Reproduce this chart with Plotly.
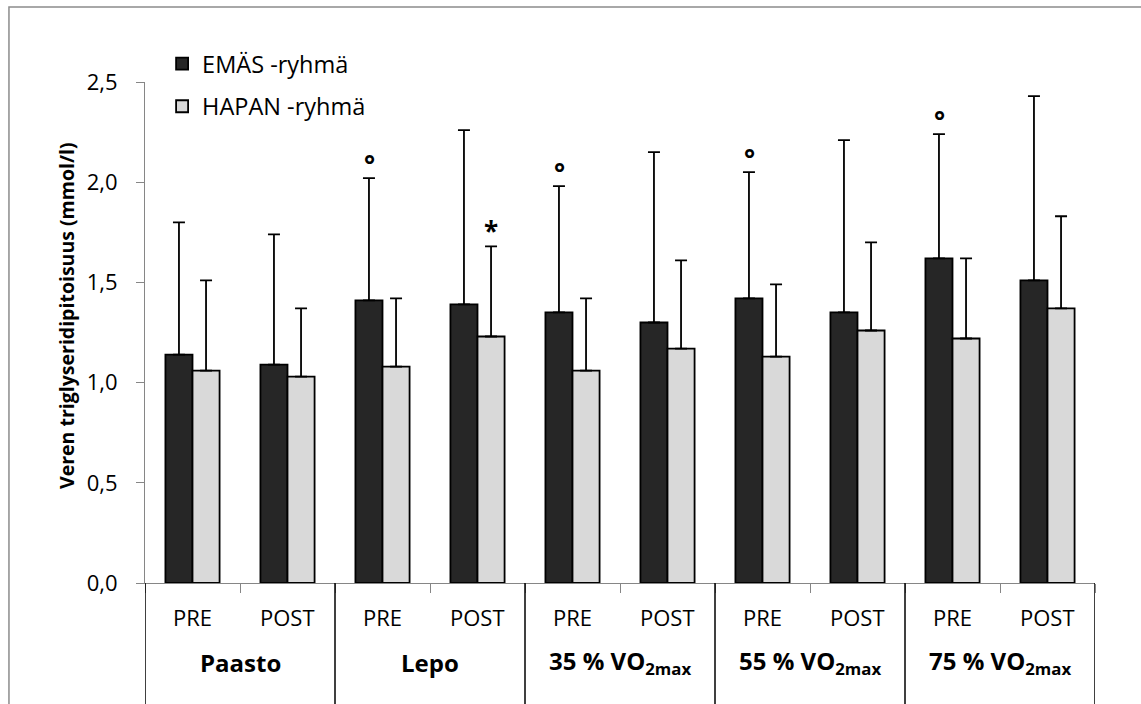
import plotly.graph_objects as go

groups = ["Paasto", "Lepo", "35 % VO<sub>2max</sub>", "55 % VO<sub>2max</sub>", "75 % VO<sub>2max</sub>"]
phases = ["PRE", "POST"]
categories = [f"{g}|{p}" for g in groups for p in phases]

emas_mean = [1.14, 1.09, 1.41, 1.39, 1.35, 1.30, 1.42, 1.35, 1.62, 1.51]
emas_top = [1.80, 1.74, 2.02, 2.26, 1.98, 2.15, 2.05, 2.21, 2.24, 2.43]
hapan_mean = [1.06, 1.03, 1.08, 1.23, 1.06, 1.17, 1.13, 1.26, 1.22, 1.37]
hapan_top = [1.51, 1.37, 1.42, 1.68, 1.42, 1.61, 1.49, 1.70, 1.62, 1.83]

emas_sig = [False, False, True, False, True, False, True, False, True, False]   # °
hapan_sig = [False, False, False, True, False, False, False, False, False, False]  # *

FONT = "Open Sans"
fig = go.Figure()
for name, mean, top, col in [("EMÄS -ryhmä", emas_mean, emas_top, "#262626"),
                             ("HAPAN -ryhmä", hapan_mean, hapan_top, "#D9D9D9")]:
    fig.add_trace(go.Bar(
        x=categories, y=mean, name=name, legendgroup=name,
        marker=dict(color=col, line=dict(color="black", width=1.8)),
        error_y=dict(type="data", symmetric=False,
                     array=[t - m for t, m in zip(top, mean)],
                     arrayminus=[0] * len(mean),
                     color="black", thickness=1.8, width=6),
    ))

annotations = []
for i, c in enumerate(categories):
    if emas_sig[i]:
        annotations.append(dict(x=c, y=emas_top[i], xref="x", yref="y", text="<b>°</b>",
                                showarrow=False, xshift=-13.5, yshift=-6, yanchor="bottom",
                                font=dict(family=FONT, size=26, color="black")))
    if hapan_sig[i]:
        annotations.append(dict(x=c, y=hapan_top[i], xref="x", yref="y", text="<b>*</b>",
                                showarrow=False, xshift=13.5, yshift=-5, yanchor="bottom",
                                font=dict(family=FONT, size=26, color="black")))
    annotations.append(dict(x=c, y=-0.0679, xref="x", yref="paper", text=c.split("|")[1],
                            showarrow=False, yanchor="middle",
                            font=dict(family=FONT, size=22, color="black")))
for gi, g in enumerate(groups):
    annotations.append(dict(x=gi * 2 + 0.5, y=-0.158, xref="x", yref="paper",
                            text=f"<b>{g}</b>", showarrow=False, yanchor="middle",
                            font=dict(family=FONT, size=24, color="black")))
annotations.append(dict(x=-0.0821, y=0.533, xref="paper", yref="paper",
                        text="<b>Veren triglyseridipitoisuus (mmol/l)</b>", textangle=-90,
                        showarrow=False, xanchor="center", yanchor="middle",
                        font=dict(family=FONT, size=19.5, color="black")))

shapes = []
for k in range(len(groups) + 1):
    shapes.append(dict(type="line", xref="x", yref="paper", x0=k * 2 - 0.5, x1=k * 2 - 0.5,
                       y0=0, y1=-0.35, line=dict(color="black", width=1.5)))
shapes.append(dict(type="rect", xref="paper", yref="paper", x0=-0.1432, x1=1.2,
                   y0=-0.5, y1=1.1497, line=dict(color="#8c8c8c", width=1.5), layer="below"))

fig.update_layout(
    width=1141, height=704,
    margin=dict(l=145, r=46, t=82, b=121),
    plot_bgcolor="white", paper_bgcolor="white",
    separators=", ",
    barmode="group", bargap=0.43, bargroupgap=0,
    font=dict(family=FONT, size=21, color="black"),
    showlegend=True,
    legend=dict(x=0.018, y=1.08, xanchor="left", yanchor="top",
                font=dict(family=FONT, size=23.5), tracegroupgap=9,
                bgcolor="rgba(0,0,0,0)", itemwidth=30),
    annotations=annotations,
    shapes=shapes,
)
fig.update_xaxes(type="category", categoryorder="array", categoryarray=categories,
                 range=[-0.5, len(categories) - 0.5],
                 showline=True, linecolor="#868686", linewidth=1.2,
                 ticks="outside", tickson="boundaries", ticklen=9, tickcolor="#868686",
                 showticklabels=False, showgrid=False, zeroline=False)
fig.update_yaxes(range=[0, 2.5], dtick=0.5, tickformat=".1f",
                 showline=True, linecolor="#868686", linewidth=1.2,
                 ticks="outside", ticklen=8, tickcolor="#868686",
                 ticklabelstandoff=14,
                 tickfont=dict(family=FONT, size=22),
                 showgrid=False, zeroline=False)

fig.write_html("out.html", config={"displayModeBar": False},
               post_script="document.body.style.margin='0px';")
